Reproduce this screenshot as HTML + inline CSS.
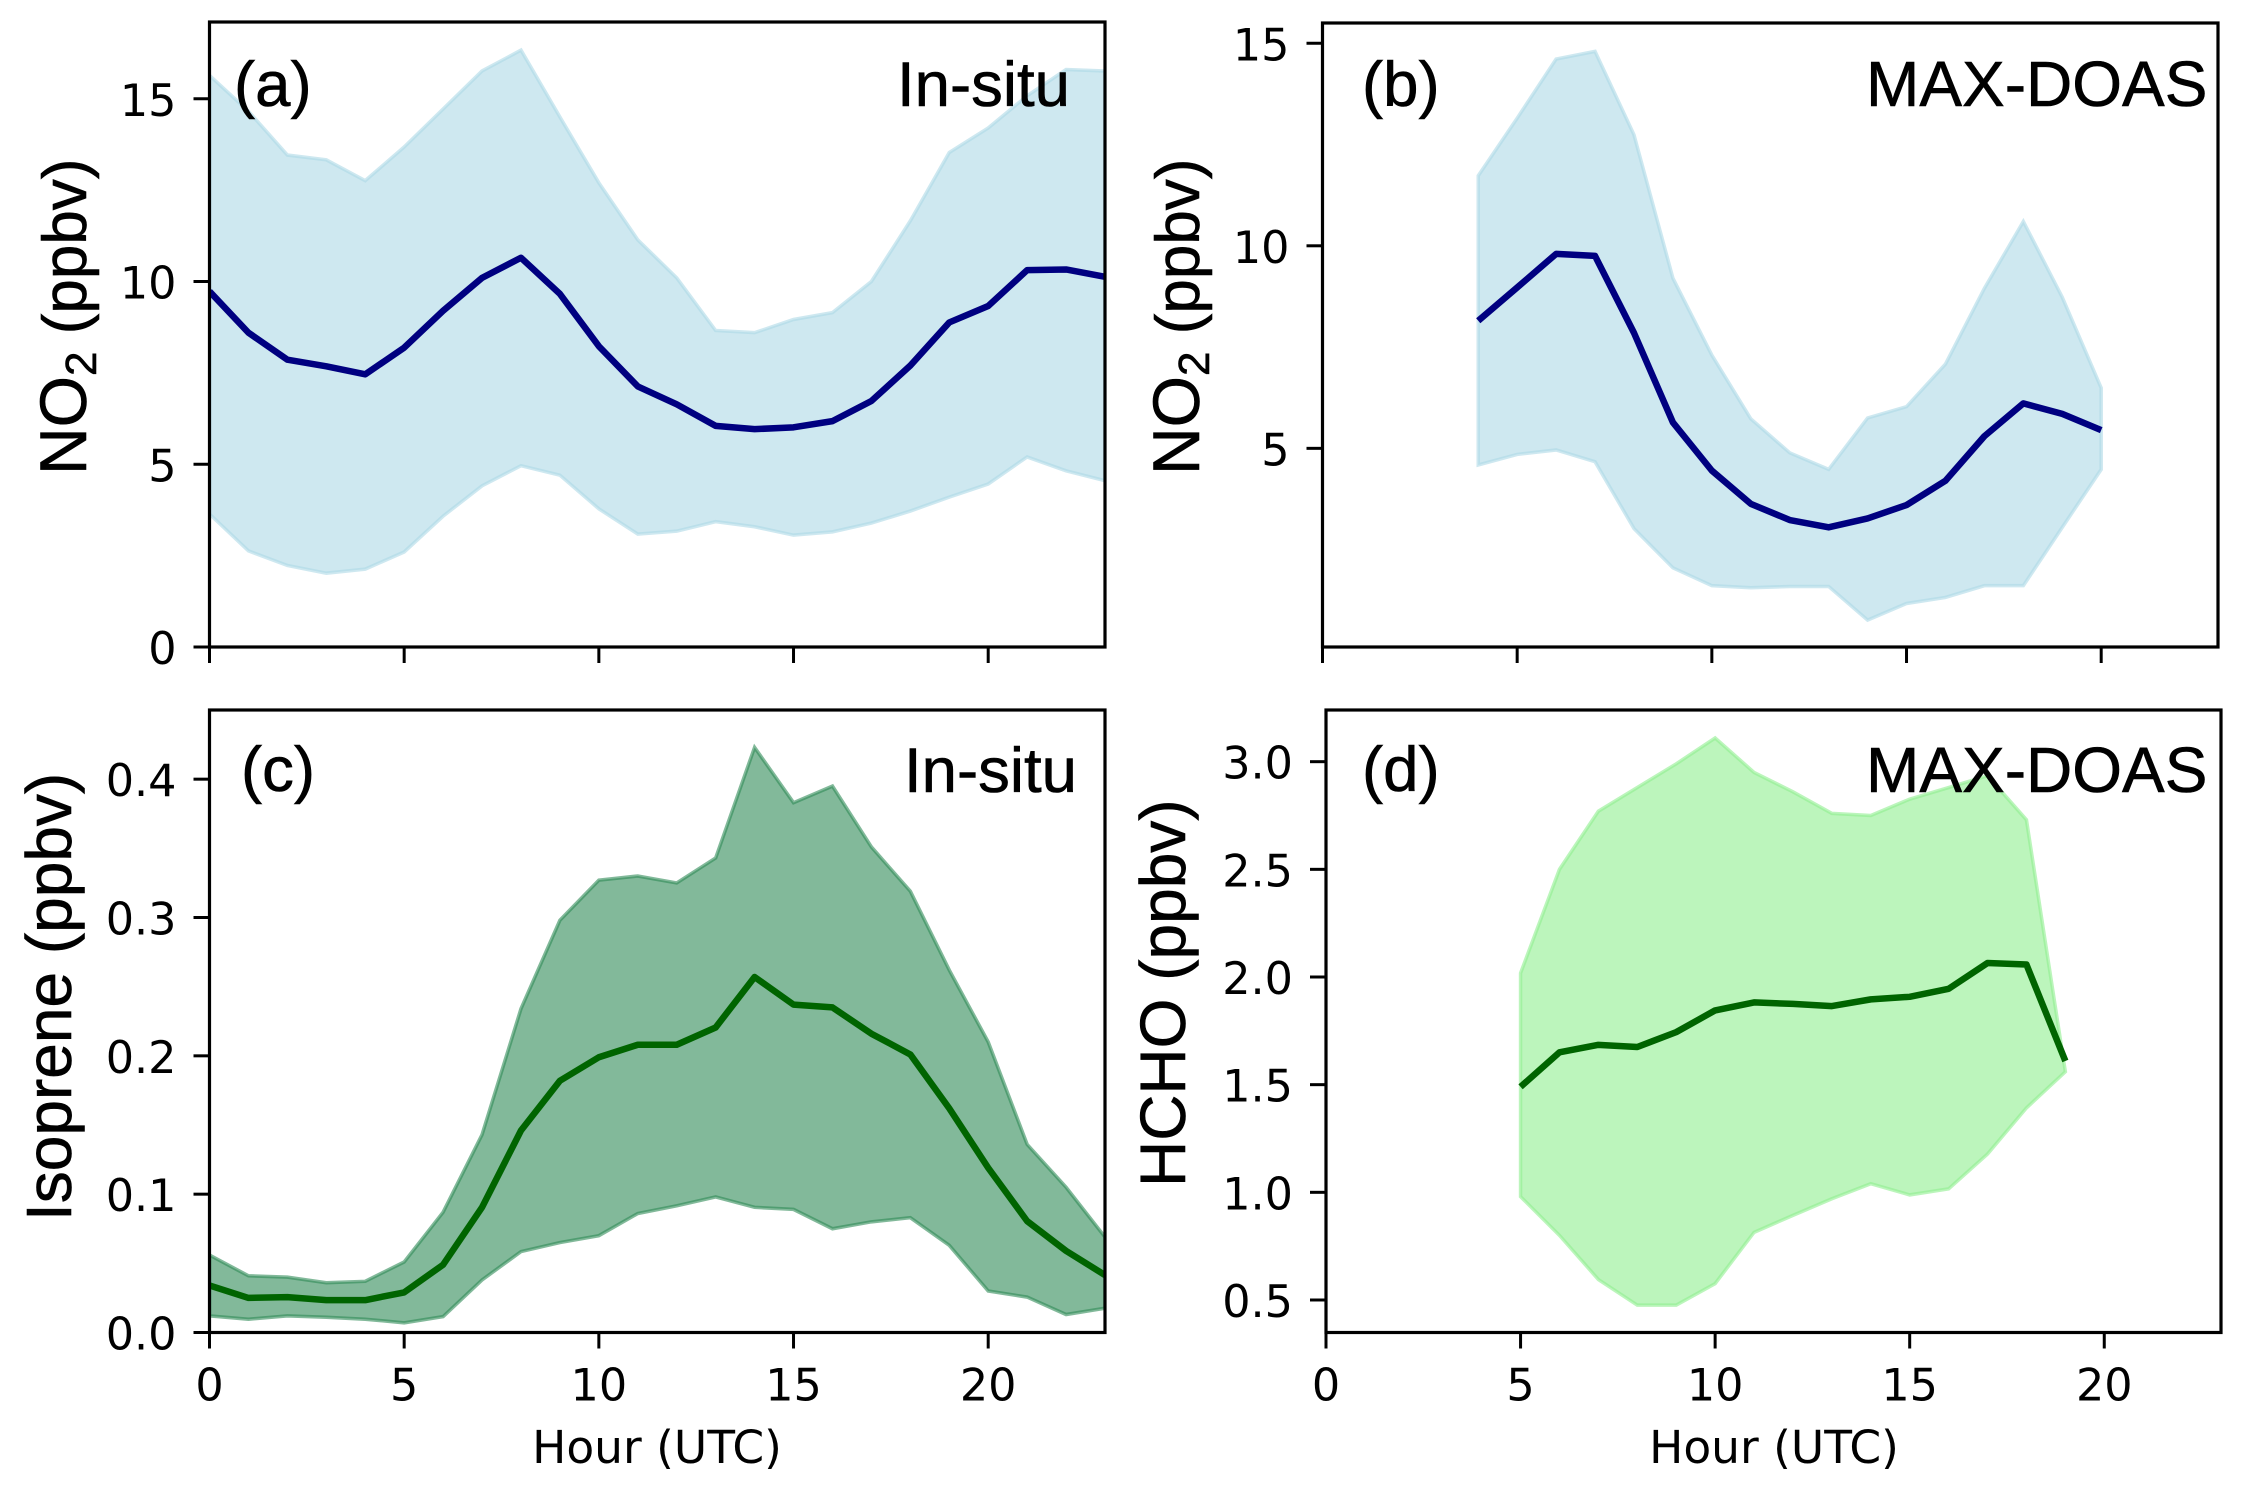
<!DOCTYPE html>
<html lang="en">
<head>
<meta charset="utf-8">
<title>Diurnal profiles of NO2, isoprene and HCHO</title>
<style>
html,body{margin:0;padding:0;background:#fff;width:2245px;height:1493px;overflow:hidden}
svg{display:block}
.tick{font-family:"DejaVu Sans",sans-serif;font-size:44.5px;fill:#000}
.xlab{font-family:"DejaVu Sans",sans-serif;font-size:45.5px;fill:#000;text-anchor:middle}
.ann{font-family:"Liberation Sans",sans-serif;font-size:63.5px;fill:#000;stroke:#000;stroke-width:.6px}
.ann.wide{font-size:64px}
.ylab{font-family:"Liberation Sans",sans-serif;font-size:64px;fill:#000;stroke:#000;stroke-width:.6px}
.ylab.no2{font-size:66px}
</style>
</head>
<body>
<svg id="fig" xmlns="http://www.w3.org/2000/svg" width="2245" height="1493" viewBox="0 0 2245 1493">
  <rect width="2245" height="1493" fill="#fff"/>
  <g id="panel-a"></g>
  <g id="panel-b"></g>
  <g id="panel-c"></g>
  <g id="panel-d"></g>
  <g>
    <text class="ann" x="234" y="106">(a)</text>
    <text class="ann" x="897" y="106">In-situ</text>
    <text class="ann" x="1362" y="106">(b)</text>
    <text class="ann wide" x="1866" y="106">MAX-DOAS</text>
    <text class="ann" x="241" y="791">(c)</text>
    <text class="ann" x="904" y="792">In-situ</text>
    <text class="ann" x="1362" y="791">(d)</text>
    <text class="ann wide" x="1866" y="792">MAX-DOAS</text>
  </g>
  <g>
    <text class="ylab no2" transform="translate(86,475) rotate(-90)">NO<tspan font-size="44" dy="10">2</tspan><tspan font-size="62" dy="-10"> (ppbv)</tspan></text>
    <text class="ylab no2" transform="translate(1199,475) rotate(-90)">NO<tspan font-size="44" dy="10">2</tspan><tspan font-size="62" dy="-10"> (ppbv)</tspan></text>
    <text class="ylab" transform="translate(71,1221) rotate(-90)">Isoprene (ppbv)</text>
    <text class="ylab" transform="translate(1185,1187) rotate(-90)">HCHO (ppbv)</text>
    <text class="xlab" x="657" y="1463">Hour (UTC)</text>
    <text class="xlab" x="1774" y="1463">Hour (UTC)</text>
  </g>
</svg>
<script>
// Panel (a) in-situ NO2
const hoursA = [0,1,2,3,4,5,6,7,8,9,10,11,12,13,14,15,16,17,18,19,20,21,22,23];
const meanA = [9.73,8.6,7.86,7.68,7.46,8.19,9.2,10.1,10.65,9.66,8.23,7.13,6.64,6.05,5.96,6.01,6.18,6.73,7.7,8.88,9.33,10.31,10.33,10.13];
const upperA = [15.64,14.66,13.46,13.33,12.76,13.68,14.72,15.76,16.33,14.5,12.7,11.14,10.1,8.66,8.6,8.96,9.15,10,11.66,13.53,14.2,15.08,15.8,15.76];
const lowerA = [3.64,2.63,2.23,2.02,2.13,2.6,3.58,4.41,4.96,4.7,3.78,3.09,3.17,3.43,3.29,3.06,3.15,3.39,3.72,4.1,4.46,5.2,4.82,4.55];
// Panel (b) MAX-DOAS NO2
const hoursB = [4,5,6,7,8,9,10,11,12,13,14,15,16,17,18,19,20];
const meanB = [8.15,8.97,9.8,9.75,7.85,5.64,4.45,3.63,3.23,3.05,3.27,3.6,4.2,5.3,6.11,5.85,5.45];
const upperB = [11.73,13.15,14.61,14.8,12.74,9.2,7.3,5.73,4.89,4.48,5.75,6.03,7.08,8.95,10.6,8.73,6.49];
const lowerB = [4.59,4.85,4.96,4.67,3.02,2.05,1.61,1.56,1.59,1.59,0.76,1.17,1.32,1.61,1.61,3.05,4.48];
// Panel (c) in-situ isoprene
const hoursC = [0,1,2,3,4,5,6,7,8,9,10,11,12,13,14,15,16,17,18,19,20,21,22,23];
const meanC = [0.034,0.025,0.0256,0.0234,0.0234,0.029,0.049,0.0905,0.146,0.182,0.199,0.208,0.208,0.2205,0.257,0.237,0.235,0.216,0.201,0.162,0.119,0.0805,0.059,0.0415];
const upperC = [0.056,0.041,0.04,0.036,0.037,0.051,0.087,0.143,0.234,0.298,0.327,0.33,0.325,0.343,0.423,0.383,0.395,0.351,0.319,0.262,0.21,0.136,0.105,0.069];
const lowerC = [0.012,0.0096,0.012,0.011,0.0096,0.007,0.0115,0.038,0.0585,0.065,0.07,0.086,0.0916,0.098,0.0905,0.089,0.075,0.08,0.083,0.063,0.03,0.0256,0.013,0.0175];
// Panel (d) MAX-DOAS HCHO
const hoursD = [5,6,7,8,9,10,11,12,13,14,15,16,17,18,19];
const meanD = [1.49,1.65,1.685,1.675,1.744,1.845,1.882,1.875,1.865,1.896,1.908,1.945,2.065,2.058,1.61];
const upperD = [2.018,2.5,2.77,2.88,2.99,3.11,2.95,2.86,2.76,2.75,2.826,2.88,2.935,2.73,1.56];
const lowerD = [0.98,0.8,0.595,0.476,0.476,0.576,0.814,0.893,0.97,1.04,0.988,1.016,1.178,1.392,1.56];
// Tick labels
const xTicks = ["0","5","10","15","20"];
const yTicksA = ["0","5","10","15"];
const yTicksB = ["5","10","15"];
const yTicksC = ["0.0","0.1","0.2","0.3","0.4"];
const yTicksD = ["0.5","1.0","1.5","2.0","2.5","3.0"];

const NS = 'http://www.w3.org/2000/svg';

function xScale(box) {
  return function (v) { return box.left + (v - 0) / 23 * (box.right - box.left); };
}
function yScale(box) {
  return function (v) { return box.bottom - (v - box.yMin) / (box.yMax - box.yMin) * (box.bottom - box.top); };
}
function svgEl(tag) {
  return document.createElementNS(NS, tag);
}
function polyline(xs, ys) {
  return xs.map(function (x, i) { return (i ? 'L' : 'M') + x.toFixed(2) + ' ' + ys[i].toFixed(2); }).join(' ');
}

function drawPanel(id, box, hours, mean, upper, lower, yTicks, showXLabels, colors) {
  const g = document.getElementById(id);
  const x = xScale(box);
  const y = yScale(box);

  const clip = svgEl('clipPath');
  clip.setAttribute('id', id + '-clip');
  const clipRect = svgEl('rect');
  clipRect.setAttribute('x', box.left);
  clipRect.setAttribute('y', box.top);
  clipRect.setAttribute('width', box.right - box.left);
  clipRect.setAttribute('height', box.bottom - box.top);
  clip.appendChild(clipRect);
  g.appendChild(clip);

  const plot = svgEl('g');
  plot.setAttribute('clip-path', 'url(#' + id + '-clip)');
  
  
  g.appendChild(plot);

  const xs = hours.map(x);
  const upYs = upper.map(y);
  const lowYs = lower.map(y);
  const bandD = polyline(xs.concat(xs.slice().reverse()), upYs.concat(lowYs.slice().reverse())) + ' Z';

  const band = svgEl('path');
  band.setAttribute('d', bandD);
  band.setAttribute('fill', colors.band);
  band.setAttribute('fill-opacity', '0.6');
  band.setAttribute('stroke', colors.band);
  band.setAttribute('stroke-opacity', '0.6');
  band.setAttribute('stroke-width', '3.5');
  band.setAttribute('stroke-linejoin', 'miter');
  
  
  plot.appendChild(band);

  const line = svgEl('path');
  line.setAttribute('d', polyline(xs, mean.map(y)));
  line.setAttribute('fill', 'none');
  line.setAttribute('stroke', colors.line);
  line.setAttribute('stroke-width', '6.5');
  line.setAttribute('stroke-linejoin', 'round');
  
  
  plot.appendChild(line);

  xTicks.forEach(function (label) {
    const px = x(Number(label));
    const t = svgEl('line');
    t.setAttribute('x1', px);
    t.setAttribute('x2', px);
    t.setAttribute('y1', box.bottom);
    t.setAttribute('y2', box.bottom + 16);
    t.setAttribute('stroke', '#000');
    t.setAttribute('stroke-width', '3');
    
    
    g.appendChild(t);
    if (showXLabels) {
      const tx = svgEl('text');
      tx.setAttribute('class', 'tick');
      tx.setAttribute('x', px);
      tx.setAttribute('y', box.bottom + 68);
      tx.setAttribute('text-anchor', 'middle');
      
      
      tx.textContent = label;
      g.appendChild(tx);
    }
  });

  yTicks.forEach(function (label) {
    const py = y(Number(label));
    const t = svgEl('line');
    t.setAttribute('x1', box.left - 16);
    t.setAttribute('x2', box.left);
    t.setAttribute('y1', py);
    t.setAttribute('y2', py);
    t.setAttribute('stroke', '#000');
    t.setAttribute('stroke-width', '3');
    
    
    g.appendChild(t);
    const tx = svgEl('text');
    tx.setAttribute('class', 'tick');
    tx.setAttribute('x', box.left - 33);
    tx.setAttribute('y', py + 17);
    tx.setAttribute('text-anchor', 'end');
    
    
    tx.textContent = label;
    g.appendChild(tx);
  });

  const frame = svgEl('rect');
  frame.setAttribute('x', box.left);
  frame.setAttribute('y', box.top);
  frame.setAttribute('width', box.right - box.left);
  frame.setAttribute('height', box.bottom - box.top);
  frame.setAttribute('fill', 'none');
  frame.setAttribute('stroke', '#000');
  frame.setAttribute('stroke-width', '3.2');
  
  
  g.appendChild(frame);
}

const blue = { band: '#add8e6', line: '#000080' };
drawPanel('panel-a', { left: 209.5, right: 1105, top: 22, bottom: 647, yMin: 0, yMax: 17.1 }, hoursA, meanA, upperA, lowerA, yTicksA, false, blue);
drawPanel('panel-b', { left: 1322.5, right: 2218, top: 23, bottom: 647, yMin: 0.096, yMax: 15.5 }, hoursB, meanB, upperB, lowerB, yTicksB, false, blue);
drawPanel('panel-c', { left: 209.5, right: 1105, top: 710, bottom: 1332.5, yMin: 0, yMax: 0.45 }, hoursC, meanC, upperC, lowerC, yTicksC, true, { band: '#2e8b57', line: '#006400' });
drawPanel('panel-d', { left: 1326, right: 2221, top: 710, bottom: 1332.5, yMin: 0.349, yMax: 3.24 }, hoursD, meanD, upperD, lowerD, yTicksD, true, { band: '#90ee90', line: '#006400' });
</script>
</body>
</html>
